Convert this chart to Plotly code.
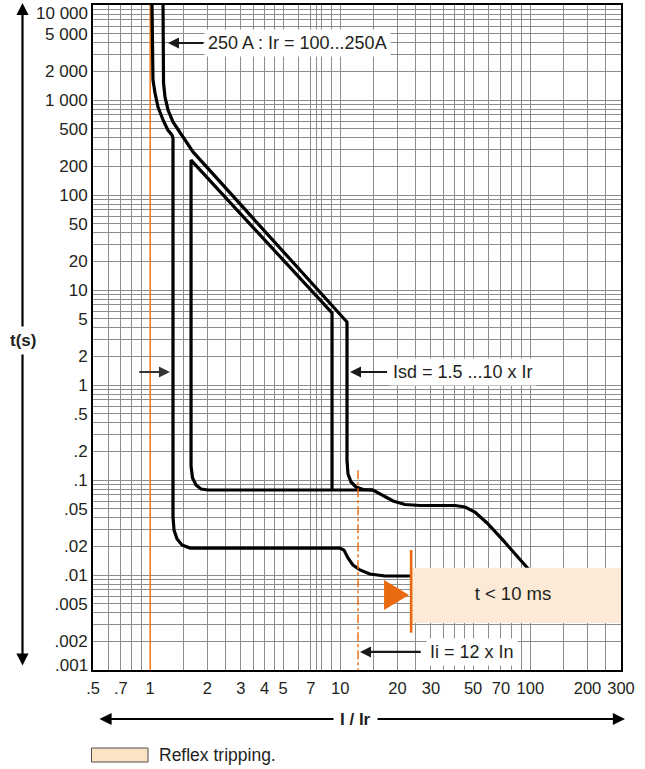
import math
import plotly.graph_objects as go

# ---------------- data ----------------
X_MIN, X_MAX = 0.5, 300          # I / Ir
Y_MIN, Y_MAX = 0.001, 10000      # t (s)

X_GRID = [0.5, 0.6, 0.7, 0.8, 0.9, 1, 1.5, 2, 2.5, 3, 3.5, 4, 4.5, 5, 6, 7, 7.5, 8, 9,
          10, 15, 20, 25, 30, 35, 40, 45, 50, 60, 70, 80, 90, 100, 150, 200, 250, 300]
X_TICK_VALS = [0.5, 0.7, 1, 2, 3, 4, 5, 7, 10, 20, 30, 50, 70, 100, 200, 300]
X_TICK_TEXT = [".5", ".7", "1", "2", "3", "4", "5", "7", "10", "20", "30", "50", "70", "100", "200", "300"]

Y_GRID = [m * 10.0 ** k for k in range(-3, 4) for m in range(1, 10)] + [10000]
Y_TICK_VALS = [0.001, 0.002, 0.005, 0.01, 0.02, 0.05, 0.1, 0.2, 0.5, 1, 2, 5,
               10, 20, 50, 100, 200, 500, 1000, 2000, 5000, 10000]
Y_TICK_TEXT = [".001", ".002", ".005", ".01", ".02", ".05", ".1", ".2", ".5", "1", "2", "5",
               "10", "20", "50", "100", "200", "500", "1 000", "2 000", "5 000", "10 000"]

# lower (minimum) tripping curve
MIN_I = [1.022, 1.034, 1.060, 1.099, 1.168, 1.238, 1.302, 1.318, 1.318, 1.334, 1.384, 1.47,
         1.62, 9.97, 10.46, 10.98, 11.67, 12.7, 14.3, 17.2, 23.3]
MIN_T = [10000, 1625, 1185, 844, 616, 483, 428, 398, 0.0408, 0.0298, 0.0239, 0.0207,
         0.0192, 0.0192, 0.0183, 0.0151, 0.0127, 0.0113, 0.01025, 0.00976, 0.00976]

# upper (maximum) tripping curve
MAX_I = [1.168, 1.175, 1.196, 1.241, 1.318, 1.435, 1.562, 1.680, 10.85, 10.85, 10.98, 11.39,
         12.1, 13.18, 14.86, 16.79, 18.96, 21.9, 26.3, 40.2, 45.3, 51.1, 59.2, 71.8, 88.3,
         96.1, 112.5]
MAX_T = [10000, 1510, 1076, 785, 587, 450, 353, 284, 4.6, 0.1625, 0.1156, 0.0953,
         0.0844, 0.0794, 0.0785, 0.0679, 0.0601, 0.0552, 0.0539, 0.0539, 0.052, 0.046,
         0.0353, 0.0233, 0.0144, 0.0121, 0.0084]

# short-time delay curve at minimum Ir
SD_I = [14.86, 9.05, 9.05, 1.64, 1.64, 1.670, 1.741, 1.851, 2.015, 9.05]
SD_T = [0.0785, 0.0785, 5.73, 233, 0.140, 0.105, 0.0886, 0.0804, 0.0785, 0.0785]

IR_LINE_I = 1.0
II_LINE_I = 12.4
II_LINE_T = [0.127, 0.001]
REFLEX_LINE_I = 23.6
REFLEX_LINE_T = [0.0183, 0.00247]
REFLEX_BOX_I = [23.6, 300]
REFLEX_BOX_T = [0.00313, 0.0119]
TRIANGLE_I = [17.0, 17.0, 23.0]
TRIANGLE_T = [0.00885, 0.00428, 0.00615]
REFLEX_TEXT_POS = (81, 0.00615)

# callouts: (arrow tip I, arrow tail I, text-start I, t, text)
CALLOUTS = [
    (1.24, 1.94, 2.01, 3981, "250 A : Ir = 100...250A"),
    (11.25, 17.95, 19.0, 1.37, "Isd = 1.5 ...10 x Ir"),
    (12.7, 27.0, 29.6, 0.00155, "Ii = 12 x In"),
    (1.27, 0.86, None, 1.37, ""),
]

LEGEND_TEXT = "Reflex tripping."
X_TITLE = "I / Ir"
Y_TITLE = "t(s)"

# ---------------- styling ----------------
FONT = "Liberation Sans, Arial, sans-serif"
TXT = "#231f20"
ORANGE = "#f07d1e"
ORANGE_DARK = "#e8690f"
BEIGE = "#fce9d6"
GRID = "#8c8c8c"

L, R, T, B = 93, 24, 5, 99
W, H = 645, 769
PW, PH = W - L - R, H - T - B


def px_x(p):   # pixel x -> paper
    return (p - L) / PW


def px_y(p):   # pixel y -> paper
    return (H - B - p) / PH


fig = go.Figure()

fig.add_trace(go.Scatter(x=[IR_LINE_I, IR_LINE_I], y=[Y_MIN, Y_MAX], mode="lines",
                         line=dict(color=ORANGE, width=1.6), hoverinfo="skip"))
for xs, ys in [(SD_I, SD_T), (MIN_I, MIN_T), (MAX_I, MAX_T)]:
    fig.add_trace(go.Scatter(x=xs, y=ys, mode="lines",
                             line=dict(color="black", width=3.2), hoverinfo="skip"))
fig.add_trace(go.Scatter(x=[II_LINE_I, II_LINE_I], y=II_LINE_T, mode="lines",
                         line=dict(color=ORANGE_DARK, width=1.4, dash="dashdot"), hoverinfo="skip"))
bx = [REFLEX_BOX_I[0], REFLEX_BOX_I[1], REFLEX_BOX_I[1], REFLEX_BOX_I[0], REFLEX_BOX_I[0]]
by = [REFLEX_BOX_T[0], REFLEX_BOX_T[0], REFLEX_BOX_T[1], REFLEX_BOX_T[1], REFLEX_BOX_T[0]]
fig.add_trace(go.Scatter(x=bx, y=by, mode="lines", fill="toself", fillcolor=BEIGE,
                         line=dict(width=0, color=BEIGE), hoverinfo="skip"))
fig.add_trace(go.Scatter(x=[REFLEX_LINE_I, REFLEX_LINE_I], y=REFLEX_LINE_T, mode="lines",
                         line=dict(color=ORANGE_DARK, width=2.6), hoverinfo="skip"))
fig.add_trace(go.Scatter(x=TRIANGLE_I + [TRIANGLE_I[0]], y=TRIANGLE_T + [TRIANGLE_T[0]],
                         mode="lines", fill="toself", fillcolor=ORANGE_DARK,
                         line=dict(width=0, color=ORANGE_DARK), hoverinfo="skip"))
fig.add_trace(go.Scatter(x=[REFLEX_TEXT_POS[0]], y=[REFLEX_TEXT_POS[1]], mode="text",
                         text=["t < 10 ms"], textfont=dict(family=FONT, size=18.5, color=TXT),
                         hoverinfo="skip"))

# the two end labels of the time axis sit slightly inside the frame in the reference
EDGE_LABELS = {Y_MAX: -8, Y_MIN: 5}

x_text = [X_TICK_TEXT[X_TICK_VALS.index(v)] if v in X_TICK_VALS else "" for v in X_GRID]
y_text = []
for v in Y_GRID:
    match = [t for tv, t in zip(Y_TICK_VALS, Y_TICK_TEXT) if abs(tv - v) / v < 1e-6]
    if match and v not in EDGE_LABELS:
        y_text.append(match[0])
    else:
        y_text.append("")

axis_common = dict(type="log", showgrid=True, gridcolor=GRID, gridwidth=1, zeroline=False,
                   showline=True, linecolor="black", linewidth=2, mirror=True, ticks="",
                   tickmode="array", ticklabeloverflow="allow")

fig.update_xaxes(range=[math.log10(X_MIN) - 1e-5, math.log10(X_MAX) + 1e-5],
                 tickvals=X_GRID, ticktext=x_text, ticklabelstandoff=2,
                 tickfont=dict(family=FONT, size=16.5, color=TXT), **axis_common)
fig.update_yaxes(range=[math.log10(Y_MIN) - 1e-5, math.log10(Y_MAX) + 1e-5],
                 tickvals=Y_GRID, ticktext=y_text, ticklabelstandoff=0,
                 tickfont=dict(family=FONT, size=17, color=TXT), **axis_common)

ann = []
for v, shift in EDGE_LABELS.items():
    ann.append(dict(x=0, y=math.log10(v), xref="paper", yref="y", xanchor="right",
                    yanchor="middle", xshift=-3, yshift=shift, showarrow=False,
                    text=Y_TICK_TEXT[Y_TICK_VALS.index(v)],
                    font=dict(family=FONT, size=17, color=TXT)))
for tip, tail, tstart, t, text in CALLOUTS:
    ann.append(dict(x=math.log10(tip), y=math.log10(t), xref="x", yref="y",
                    ax=math.log10(tail), ay=math.log10(t), axref="x", ayref="y",
                    text="", showarrow=True, arrowhead=2, arrowsize=1.0, arrowwidth=2.2,
                    arrowcolor="#1a1a1a" if text else "#333333"))
for tip, tail, tstart, t, text in CALLOUTS:
    if text:
        ann.append(dict(x=math.log10(tstart), y=math.log10(t), xref="x", yref="y",
                        text=text, showarrow=False, xanchor="left", yanchor="middle",
                        bgcolor="white", borderpad=3, xshift=-4,
                        font=dict(family=FONT, size=18, color=TXT)))

ann.append(dict(x=px_x(22.5), y=px_y(3), xref="paper", yref="paper", ax=0, ay=664,
                axref="pixel", ayref="pixel", text="", showarrow=True, arrowhead=2,
                arrowsize=1.1, arrowwidth=2.2, arrowside="end+start", arrowcolor="black"))
ann.append(dict(x=px_x(625), y=px_y(719), xref="paper", yref="paper", ax=-527, ay=0,
                axref="pixel", ayref="pixel", text="", showarrow=True, arrowhead=2,
                arrowsize=1.1, arrowwidth=2.2, arrowside="end+start", arrowcolor="black"))
ann.append(dict(x=px_x(22.5), y=px_y(340), xref="paper", yref="paper", text="<b>%s</b>" % Y_TITLE,
                showarrow=False, bgcolor="white", borderpad=4, xanchor="center", yanchor="middle",
                font=dict(family=FONT, size=17, color=TXT)))
ann.append(dict(x=px_x(355), y=px_y(719), xref="paper", yref="paper", text="<b>%s</b>" % X_TITLE,
                showarrow=False, bgcolor="white", borderpad=6, xanchor="center", yanchor="middle",
                font=dict(family=FONT, size=17, color=TXT)))
ann.append(dict(x=px_x(157), y=px_y(755), xref="paper", yref="paper", text=LEGEND_TEXT,
                showarrow=False, xanchor="left", yanchor="middle",
                font=dict(family=FONT, size=17.5, color=TXT)))

shapes = [dict(type="rect", xref="paper", yref="paper", x0=px_x(91.5), x1=px_x(148),
               y0=px_y(762), y1=px_y(748), fillcolor="#fbe3c4",
               line=dict(color="#4d4d4d", width=1))]

fig.update_layout(width=W, height=H,
                  margin=dict(l=L, r=R, t=T, b=B, autoexpand=False),
                  paper_bgcolor="white", plot_bgcolor="white", showlegend=False,
                  annotations=ann, shapes=shapes, font=dict(family=FONT, color=TXT))

fig.write_html("out.html", config={"displayModeBar": False},
               post_script="document.body.style.margin='0';document.body.style.padding='0';")
